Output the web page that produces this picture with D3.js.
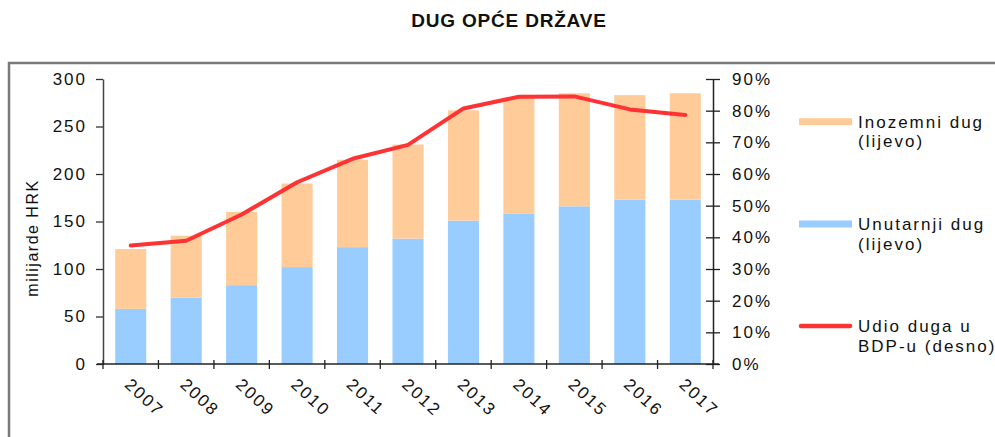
<!DOCTYPE html>
<html><head><meta charset="utf-8">
<script src="https://cdn.jsdelivr.net/npm/d3@7/dist/d3.min.js"></script>
<style>body{margin:0;background:#fff;}svg{display:block;font-family:Arial,"Liberation Sans",sans-serif;}</style>
</head><body><svg id="c" width="995" height="437"></svg>
<script>
const years = ["2007","2008","2009","2010","2011","2012","2013","2014","2015","2016","2017"];
const domesticDebt = [58, 70, 83, 102, 123, 132, 151, 158, 166, 173, 173];
const foreignDebt = [63, 65, 77, 88, 92, 99, 116, 122, 119, 110, 112];
const debtToGdp = [37.4, 38.9, 47.2, 57.4, 64.8, 69.2, 80.7, 84.4, 84.5, 80.4, 78.6];
const leftTicks = [0, 50, 100, 150, 200, 250, 300];
const rightTicks = [0, 10, 20, 30, 40, 50, 60, 70, 80, 90];
const legendItems = [
  {lines:["Inozemni dug","(lijevo)"], color:"#FFCC99", kind:"bar"},
  {lines:["Unutarnji dug","(lijevo)"], color:"#99CCFF", kind:"bar"},
  {lines:["Udio duga u","BDP-u (desno)"], color:"#FF3333", kind:"line"}
];

const svg = d3.select("#c");
const L = 103, R = 713, T = 79, B = 364;

// frame
svg.append("rect").attr("x",9).attr("y",63).attr("width",1000).attr("height",400)
  .attr("fill","none").attr("stroke","#7a7a7a").attr("stroke-width",2.5);

// title
svg.append("text").attr("x",509).attr("y",27).attr("text-anchor","middle")
  .attr("font-size",19).attr("font-weight","bold").attr("letter-spacing",0.8)
  .attr("fill","#111").text("DUG OPĆE DRŽAVE");

const x = d3.scaleBand().domain(years).range([L,R]).paddingInner(0.44).paddingOuter(0.22);
const yL = d3.scaleLinear().domain([0,300]).range([B,T]);
const yR = d3.scaleLinear().domain([0,90]).range([B,T]);

const stack = years.map((y,i)=>({year:y, dom:domesticDebt[i], for:foreignDebt[i]}));
const g = svg.append("g");
g.selectAll("rect.dom").data(stack).join("rect").attr("class","dom")
  .attr("x",d=>x(d.year)).attr("width",x.bandwidth())
  .attr("y",d=>yL(d.dom)).attr("height",d=>yL(0)-yL(d.dom)).attr("fill","#99CCFF");
g.selectAll("rect.for").data(stack).join("rect").attr("class","for")
  .attr("x",d=>x(d.year)).attr("width",x.bandwidth())
  .attr("y",d=>yL(d.dom+d.for)).attr("height",d=>yL(d.dom)-yL(d.dom+d.for)).attr("fill","#FFCC99");

// left axis
const axL = svg.append("g").attr("transform",`translate(${L},0)`)
  .call(d3.axisLeft(yL).tickValues(leftTicks).tickSize(7).tickPadding(9).tickSizeOuter(0));
axL.select(".domain").attr("stroke","#444").attr("stroke-width",1.5);
axL.selectAll(".tick line").attr("stroke","#333").attr("stroke-width",1.3);
axL.selectAll(".tick text").attr("font-size",17).attr("letter-spacing",2).attr("fill","#111")
  .attr("font-family","Arial,'Liberation Sans',sans-serif");

// right axis
const axR = svg.append("g").attr("transform",`translate(${R},0)`)
  .call(d3.axisRight(yR).tickValues(rightTicks).tickSize(7).tickPadding(12).tickSizeOuter(0)
  .tickFormat(d=>d+"%"));
axR.select(".domain").attr("stroke","#222").attr("stroke-width",1.5);
axR.selectAll(".tick line").attr("x1",-7).attr("stroke","#222").attr("stroke-width",1.3);
axR.selectAll(".tick text").attr("font-size",17).attr("letter-spacing",2).attr("fill","#111")
  .attr("font-family","Arial,'Liberation Sans',sans-serif");

// x axis
const axX = svg.append("g").attr("transform",`translate(0,${B})`);
axX.append("line").attr("x1",L-6).attr("x2",R+6).attr("stroke","#222").attr("stroke-width",1.5);
const step = x.step();
const bounds = d3.range(years.length+1).map(i=>L+i*step);
axX.selectAll("line.tk").data(bounds).join("line").attr("class","tk")
  .attr("x1",d=>d).attr("x2",d=>d).attr("y1",-4).attr("y2",5).attr("stroke","#222").attr("stroke-width",1.3);
axX.selectAll("text").data(years).join("text")
  .attr("transform",d=>`translate(${x(d)+x.bandwidth()/2-7},${22}) rotate(43)`)
  .attr("font-size",17).attr("letter-spacing",2).attr("fill","#111").text(d=>d);

// y title
svg.append("text").attr("transform","translate(38,238) rotate(-90)").attr("text-anchor","middle")
  .attr("font-size",16).attr("letter-spacing",1.5).attr("fill","#111").text("milijarde HRK");

// line
const line = d3.line().x((d,i)=>x(years[i])+x.bandwidth()/2).y(d=>yR(d));
svg.append("path").datum(debtToGdp).attr("d",line).attr("fill","none")
  .attr("stroke","#FF3333").attr("stroke-width",4).attr("stroke-linejoin","round").attr("stroke-linecap","round");

// legend
const legY = [121.7, 224, 326];
legendItems.forEach((it,i)=>{
  const gy = legY[i];
  if(it.kind==="bar"){
    svg.append("rect").attr("x",799).attr("y",gy-3.5).attr("width",53).attr("height",7).attr("fill",it.color);
  } else {
    svg.append("line").attr("x1",801).attr("x2",850).attr("y1",gy).attr("y2",gy)
      .attr("stroke",it.color).attr("stroke-width",4.5).attr("stroke-linecap","round");
  }
  it.lines.forEach((t,j)=>{
    svg.append("text").attr("x",858).attr("y",gy+6+j*19.5).attr("font-size",17)
      .attr("letter-spacing",2).attr("fill","#111").text(t);
  });
});
</script></body></html>
